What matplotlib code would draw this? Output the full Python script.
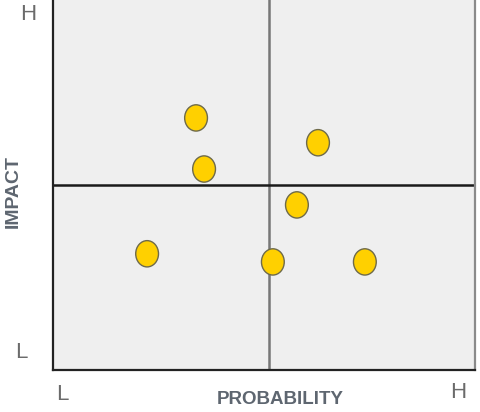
import matplotlib
matplotlib.use("Agg")
import matplotlib.pyplot as plt
from matplotlib.patches import Ellipse

# Risk positions on a 0-10 probability / impact grid
probability = [3.39, 3.58, 6.28, 5.78, 2.23, 5.21, 7.39]
impact = [6.81, 5.43, 6.14, 4.46, 3.14, 2.92, 2.92]

# Quadrant split lines
prob_split = 5.12
impact_split = 5.01

axis_ends = ["L", "H"]
x_title = "PROBABILITY"
y_title = "IMPACT"

fig = plt.figure(figsize=(4.81, 4.12), dpi=100)
ax = fig.add_axes([53 / 481, 42 / 412, 422 / 481, 372 / 412])
ax.set_facecolor("#efefef")
ax.set_xlim(0, 10)
ax.set_ylim(0, 10.05)
ax.set_xticks([])
ax.set_yticks([])
ax.spines["top"].set_visible(False)
ax.spines["left"].set_color("#222222")
ax.spines["bottom"].set_color("#222222")
ax.spines["left"].set_linewidth(1.6)
ax.spines["bottom"].set_linewidth(1.6)
ax.spines["right"].set_color("#8a8a8a")
ax.spines["right"].set_linewidth(1.6)

ax.axvline(prob_split, color="#777777", lw=1.8, zorder=1)
ax.axhline(impact_split, color="#1a1a1a", lw=1.8, zorder=1)

for px, iy in zip(probability, impact):
    ax.add_patch(Ellipse((px, iy), 0.54, 0.71, facecolor="#ffd000",
                         edgecolor="#6e6a4a", lw=1.0, zorder=3))

font = ["Liberation Sans", "DejaVu Sans"]
lab_col = "#6b6b6b"
title_col = "#5e6670"

fig.text(28 / 481, 1 - 15 / 412, axis_ends[1], ha="center", va="center",
         fontsize=16, color=lab_col, family=font)
fig.text(21 / 481, 1 - 353 / 412, axis_ends[0], ha="center", va="center",
         fontsize=16, color=lab_col, family=font)
fig.text(62 / 481, 1 - 394 / 412, axis_ends[0], ha="center", va="center",
         fontsize=16, color=lab_col, family=font)
fig.text(458 / 481, 1 - 393 / 412, axis_ends[1], ha="center", va="center",
         fontsize=16, color=lab_col, family=font)

fig.text(280 / 481, 1 - 399 / 412, x_title, ha="center", va="center",
         fontsize=13.5, fontweight="bold", color=title_col, family=font)
fig.text(13 / 481, 1 - 192 / 412, y_title, ha="center", va="center",
         rotation=90, fontsize=14, fontweight="bold", color=title_col,
         family=font)

fig.savefig("out.png", dpi=100)
